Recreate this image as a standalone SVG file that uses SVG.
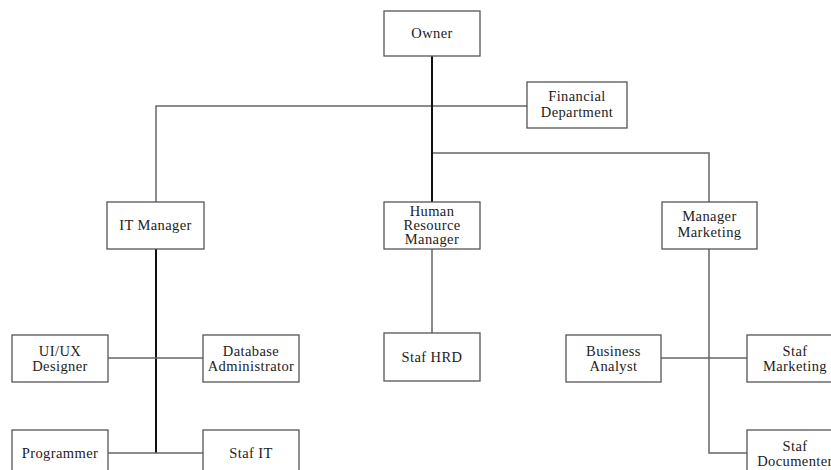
<svg xmlns="http://www.w3.org/2000/svg" width="831" height="470" viewBox="0 0 831 470">
<style>
.box{fill:#fff;stroke:#555;stroke-width:1.3}
.t{font-family:"Liberation Serif","Times New Roman",serif;font-size:14.5px;letter-spacing:0.4px;fill:#222;text-anchor:middle}
.ln{fill:none;stroke:#666;stroke-width:1.5}
.dk{fill:none;stroke:#111;stroke-width:2}
</style>
<rect width="831" height="470" fill="#fff"/>
<g id="connectors">
<polyline class="ln" points="156,249 156,106 527,106"/>
<polyline class="ln" points="432,153 709,153 709,202"/>
<line class="dk" x1="432" y1="56" x2="432" y2="202"/>
<line class="ln" x1="432" y1="249" x2="432" y2="333"/>
<line class="dk" x1="156" y1="249" x2="156" y2="453"/>
<line class="ln" x1="108" y1="358" x2="203" y2="358"/>
<line class="ln" x1="108" y1="453" x2="203" y2="453"/>
<polyline class="ln" points="709,249 709,453 747,453"/>
<line class="ln" x1="661" y1="358" x2="747" y2="358"/>
</g>
<g id="owner"><rect class="box" x="384" y="11" width="96" height="45"/><text class="t" x="432" y="38">Owner</text></g>
<g id="financial"><rect class="box" x="527" y="82" width="100" height="46"/><text class="t" x="577" y="101">Financial</text><text class="t" x="577" y="117">Department</text></g>
<g id="it-manager"><rect class="box" x="107" y="202" width="97" height="47"/><text class="t" x="155.5" y="230">IT Manager</text></g>
<g id="hr-manager"><rect class="box" x="384" y="202" width="96" height="47"/><text class="t" x="432" y="216">Human</text><text class="t" x="432" y="230">Resource</text><text class="t" x="432" y="244">Manager</text></g>
<g id="manager-marketing"><rect class="box" x="662" y="202" width="95" height="47"/><text class="t" x="709.5" y="221">Manager</text><text class="t" x="709.5" y="237">Marketing</text></g>
<g id="uiux"><rect class="box" x="12" y="335" width="96" height="47"/><text class="t" x="60" y="356">UI/UX</text><text class="t" x="60" y="371">Designer</text></g>
<g id="dba"><rect class="box" x="203" y="335" width="96" height="47"/><text class="t" x="251" y="356">Database</text><text class="t" x="251" y="371">Administrator</text></g>
<g id="staf-hrd"><rect class="box" x="384" y="333" width="96" height="48"/><text class="t" x="432" y="362">Staf HRD</text></g>
<g id="business-analyst"><rect class="box" x="566" y="335" width="95" height="47"/><text class="t" x="613.5" y="356">Business</text><text class="t" x="613.5" y="371">Analyst</text></g>
<g id="staf-marketing"><rect class="box" x="747" y="335" width="96" height="47"/><text class="t" x="795" y="356">Staf</text><text class="t" x="795" y="371">Marketing</text></g>
<g id="programmer"><rect class="box" x="12" y="430" width="96" height="48"/><text class="t" x="60" y="458">Programmer</text></g>
<g id="staf-it"><rect class="box" x="203" y="430" width="96" height="48"/><text class="t" x="251" y="458">Staf IT</text></g>
<g id="staf-documenter"><rect class="box" x="747" y="430" width="96" height="48"/><text class="t" x="795" y="451">Staf</text><text class="t" x="795" y="466">Documenter</text></g>
</svg>
